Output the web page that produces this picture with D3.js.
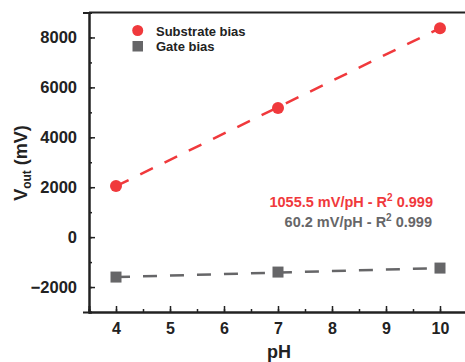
<!DOCTYPE html>
<html><head><meta charset="utf-8">
<script src="https://cdn.jsdelivr.net/npm/d3@7"></script>
<style>body{margin:0;background:#fff}svg{display:block}text{font-family:"Liberation Sans",Arial,sans-serif;font-weight:bold}</style>
</head><body>
<script>
const pH = [4, 7, 10];
const substrateBias = [2050, 5170, 8370];
const gateBias = [-1600, -1400, -1240];
const substrateFit = [2040, 8373];
const gateFit = [-1600, -1239];
const xTicks = [4, 5, 6, 7, 8, 9, 10];
const yTicks = [-2000, 0, 2000, 4000, 6000, 8000];
const seriesNames = ["Substrate bias", "Gate bias"];
const annotations = ["1055.5 mV/pH - R", "60.2 mV/pH - R"];
const red = "#f0393c", grey = "#666668";

const W = 465, H = 362;
const svg = d3.select("body").append("svg").attr("width", W).attr("height", H);
const x = d3.scaleLinear().domain([3.5, 10.5]).range([89, 467]);
const y = d3.scaleLinear().domain([-3000, 9000]).range([312, 12.5]);

// frame
svg.append("line").attr("x1", 89).attr("x2", W + 5).attr("y1", y(9000)).attr("y2", y(9000)).attr("stroke", "#222").attr("stroke-width", 2);

const gx = svg.append("g").attr("transform", `translate(0,${y(-3000)})`);
gx.call(d3.axisBottom(x).tickValues(d3.range(4, 10.01, 0.5)).tickSize(-3).tickFormat(""));
const gx2 = svg.append("g").attr("transform", `translate(0,${y(-3000)})`);
gx2.call(d3.axisBottom(x).tickValues(xTicks).tickSize(-6).tickPadding(11).tickFormat(d3.format("d")));
[gx, gx2].forEach(g => {
  g.select(".domain").attr("stroke", "#222").attr("stroke-width", 2);
  g.selectAll(".tick line").attr("stroke", "#222").attr("stroke-width", 1.5);
});
gx2.selectAll("text").attr("font-size", 16).attr("fill", "#222");

const gy = svg.append("g").attr("transform", `translate(${x(3.5)},0)`);
gy.call(d3.axisLeft(y).tickValues(d3.range(-3000, 9001, 1000)).tickSize(-3).tickFormat(""));
const gy2 = svg.append("g").attr("transform", `translate(${x(3.5)},0)`);
gy2.call(d3.axisLeft(y).tickValues(yTicks).tickSize(6).tickPadding(6).tickFormat(d => d < 0 ? "\u2212" + Math.abs(d) : d));
[gy, gy2].forEach(g => {
  g.select(".domain").attr("stroke", "#222").attr("stroke-width", 2);
  g.selectAll(".tick line").attr("stroke", "#222").attr("stroke-width", 1.5);
});
gy2.selectAll(".tick line").attr("x2", 6);
gy2.selectAll("text").attr("font-size", 16.5).attr("fill", "#222");

// fit lines
const line = d3.line().x(d => x(d[0])).y(d => y(d[1]));
svg.append("path").datum([[pH[0], substrateFit[0]], [pH[2], substrateFit[1]]]).attr("d", line)
  .attr("stroke", red).attr("stroke-width", 2.5).attr("fill", "none").attr("stroke-dasharray", "14,13");
svg.append("path").datum([[pH[0], gateFit[0]], [pH[2], gateFit[1]]]).attr("d", line)
  .attr("stroke", grey).attr("stroke-width", 2.5).attr("fill", "none").attr("stroke-dasharray", "14,13");

// points
svg.selectAll(".sb").data(pH).enter().append("circle")
  .attr("cx", d => x(d)).attr("cy", (d, i) => y(substrateBias[i])).attr("r", 6).attr("fill", red);
svg.selectAll(".gb").data(pH).enter().append("rect")
  .attr("x", d => x(d) - 5.5).attr("y", (d, i) => y(gateBias[i]) - 5.5).attr("width", 11).attr("height", 11).attr("fill", grey);

// legend
svg.append("circle").attr("cx", 137.7).attr("cy", 30.5).attr("r", 5.5).attr("fill", red);
svg.append("rect").attr("x", 132.5).attr("y", 41).attr("width", 10.5).attr("height", 10.5).attr("fill", grey);
svg.append("text").attr("x", 156).attr("y", 35.5).attr("font-size", 13).attr("fill", "#222").text(seriesNames[0]);
svg.append("text").attr("x", 156).attr("y", 51).attr("font-size", 13).attr("fill", "#222").text(seriesNames[1]);

// annotations
function annot(txt, xr, yb, col) {
  const t = svg.append("text").attr("x", xr).attr("y", yb).attr("text-anchor", "end").attr("font-size", 14.5).attr("fill", col);
  t.append("tspan").text(txt);
  t.append("tspan").attr("dy", -6).attr("font-size", 10).text("2");
  t.append("tspan").attr("dy", 6).text(" 0.999");
}
annot(annotations[0], 433, 207, red);
annot(annotations[1], 432, 226.5, grey);

// axis titles
svg.append("text").attr("x", 279).attr("y", 358).attr("text-anchor", "middle").attr("font-size", 18).attr("fill", "#222").text("pH");
const yl = svg.append("text").attr("transform", "translate(27,163) rotate(-90)").attr("text-anchor", "middle").attr("font-size", 18).attr("fill", "#222");
yl.append("tspan").text("V");
yl.append("tspan").attr("font-size", 12).attr("dy", 4).text("out");
yl.append("tspan").attr("dy", -4).text(" (mV)");
</script>
</body></html>
